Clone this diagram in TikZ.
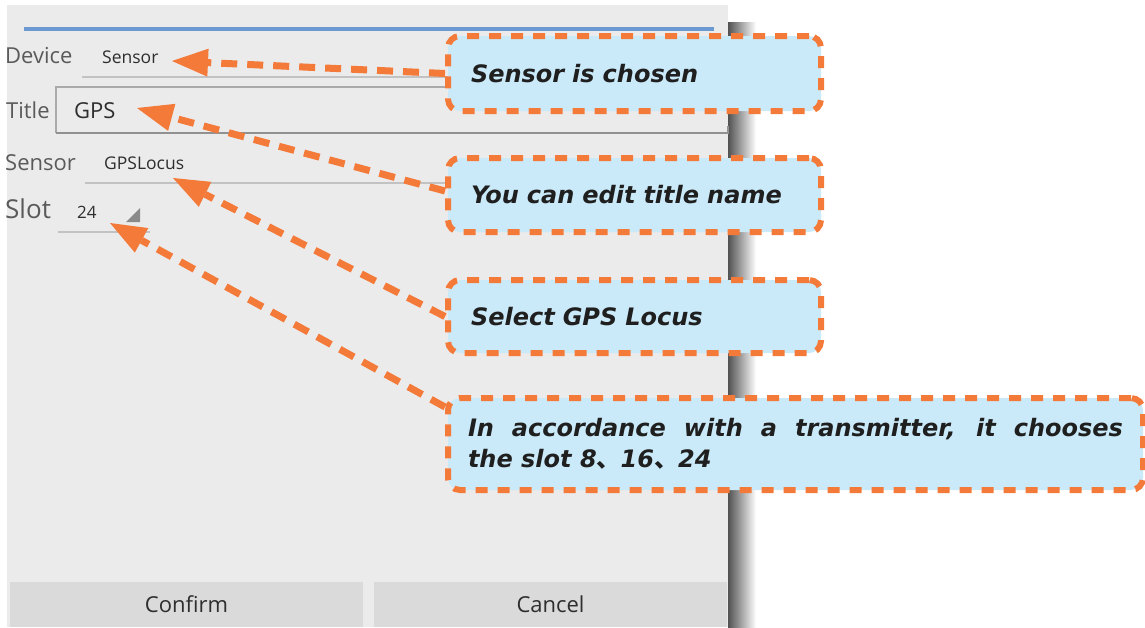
\documentclass[tikz,border=0pt]{standalone}
\usepackage{fontspec}
\setmainfont{Open Sans}
\newfontfamily\notefont{DejaVu Sans}
\newfontfamily\cjk{Noto Sans CJK JP}
\usepackage{xcolor}
\usetikzlibrary{arrows.meta,positioning}
\definecolor{panelgray}{HTML}{EBEBEB}
\definecolor{labelgray}{HTML}{5A5A5A}
\definecolor{valuegray}{HTML}{2E2E2E}
\definecolor{rulegray}{HTML}{C2C2C2}
\definecolor{boxgray}{HTML}{AAAAAA}
\definecolor{barblue}{HTML}{6B9AD2}
\definecolor{btngray}{HTML}{DADADA}
\definecolor{spingray}{HTML}{8A8A8A}
\definecolor{noteorange}{HTML}{F47A3A}
\definecolor{noteblue}{HTML}{CBEAF9}
\tikzset{
  fieldlabel/.style={anchor=base west,inner sep=0pt,text=labelgray,
                     font=\fontsize{22}{26}\selectfont},
  fieldvalue/.style={anchor=base west,inner sep=0pt,text=valuegray,
                     font=\fontsize{17.5}{21}\selectfont},
  fieldrule/.style={draw=rulegray,line width=1.5pt},
  btn/.style={fill=btngray,minimum width=353pt,minimum height=45pt,
              inner sep=0pt,text=valuegray,font=\fontsize{22}{26}\selectfont},
  note/.style={draw=noteorange,fill=noteblue,line width=6pt,
               dash pattern=on 12pt off 10pt,rounded corners=12pt,
               anchor=north west,inner xsep=23pt,inner ysep=0pt,align=left,
               text=black!88,
               font=\notefont\bfseries\itshape\fontsize{24}{31}\selectfont},
  notearr/.style={draw=noteorange,line width=7pt,dash pattern=on 16pt off 10pt,
                  -{Triangle[length=36pt,width=28pt,line width=0pt]}}
}
\begin{document}
\begin{tikzpicture}[x=1pt,y=-1pt]
    \fill[white,use as bounding box] (0,0) rectangle (1145,627);
    \shade[left color=black!68,right color=white] (728,22) rectangle (756,627);
    \fill[panelgray] (7,5) rectangle (728,627);
    \draw[barblue,line width=4pt] (24,29) -- (714,29);
    \node[fieldlabel] (devlbl) at (5,63) {Device};
    \node[fieldvalue] (devval) at (102,63) {Sensor};
    \draw[fieldrule] (82,77) -- (720,77);
    \draw[boxgray,line width=1.5pt] (56,133) -- (56,87) -- (726,87);
    \draw[boxgray!85!black,line width=2.5pt] (56,133) -- (728,133) -- (728,126);
    \node[fieldlabel] (titlbl) at (6,118) {Title};
    \node[fieldvalue,font=\fontsize{22}{26}\selectfont] (titval) at (74,118) {GPS};
    \node[fieldlabel] (senlbl) at (5,170) {Sensor};
    \node[fieldvalue] (senval) at (104,169) {GPSLocus};
    \draw[fieldrule] (85,183) -- (720,183);
    \node[fieldlabel,font=\fontsize{26}{30}\selectfont] (slotlbl) at (5,218) {Slot};
    \node[fieldvalue,font=\fontsize{17}{20}\selectfont] (slotval) at (77,218) {24};
    \fill[spingray] (126,222) -- (140,222) -- (140,208) -- cycle;
    \draw[fieldrule] (58,232) -- (150,232);
    \node[btn] (confirm) at (186.5,604.5) {Confirm};
    \node[btn] (cancel) at (550.5,604.5) {Cancel};
    \node[note,text width=327pt,minimum height=75pt] (devnote) at (445,33)
      {Sensor is chosen};
    \node[note,text width=327pt,minimum height=74pt] (titnote) at (445,155)
      {You can edit title name};
    \node[note,text width=327pt,minimum height=73pt] (sennote) at (445,277)
      {Select GPS Locus};
    \node[note,inner xsep=20pt,text width=655pt,minimum height=92pt,align=justify]
      (slotnote) at (445,395)
      {In accordance with a transmitter, it chooses\linebreak
       the slot 8{\cjk 、}16{\cjk 、}24};
    \coordinate (devtip) at (172,61);
    \coordinate (tittip) at (137,108);
    \coordinate (sentip) at (173,178);
    \coordinate (slottip) at (110,223);
    \draw[notearr] (devnote.west) -- (devtip);
    \draw[notearr] ([yshift=4pt]titnote.west) -- (tittip);
    \draw[notearr] (sennote.west) -- (sentip);
    \draw[notearr] ([yshift=-12pt]slotnote.north west) -- (slottip);
  \end{tikzpicture}
\end{document}
